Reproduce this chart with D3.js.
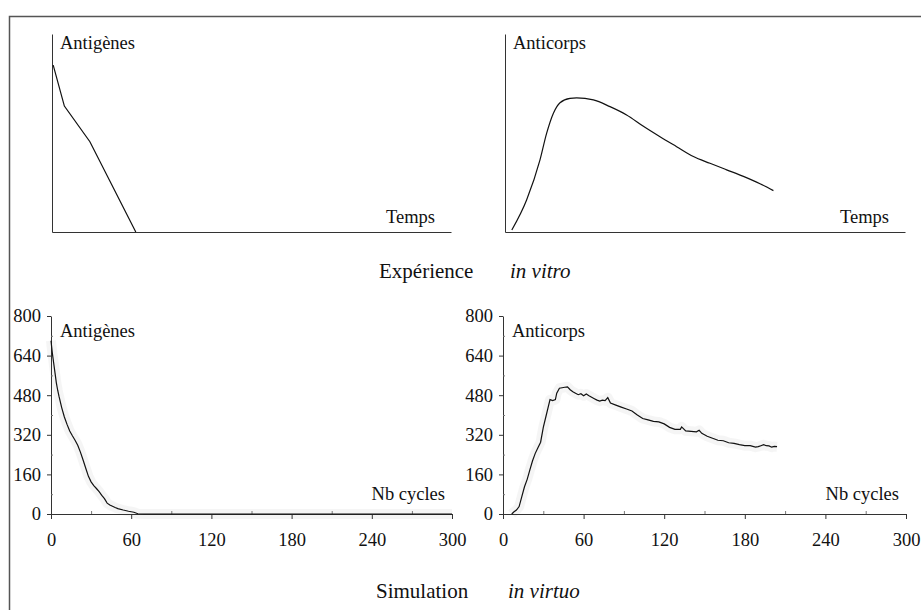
<!DOCTYPE html>
<html>
<head>
<meta charset="utf-8">
<script src="https://d3js.org/d3.v7.min.js"></script>
<style>
    body { margin: 0; background: #fff; }
    text { font-family: "Liberation Serif", "Times New Roman", serif; fill: #111; }
    .axis path, .axis line { stroke: #333; }
    .minor line { stroke: #777; }
</style>
</head>
<body>
<svg id="chart" width="921" height="610"></svg>
<script>
    // in vitro (schematic, arbitrary units 0-100)
    var vitroAgT = [0.3, 3.1, 9.5, 21];
    var vitroAgV = [84.3, 63.6, 45.6, 0];
    var vitroAbT = [1.7, 5.4, 8.75, 10.4, 12.1, 13.75, 16.25, 17.9, 22.1, 26.25, 30.4, 34.5, 38.75, 42.9, 47.1, 51.25, 55.4, 59.6, 63.75, 67.1];
    var vitroAbV = [1, 16.2, 36.4, 49.8, 60, 65.3, 67.5, 67.7, 66.7, 63.3, 59.1, 53.5, 48.1, 43.1, 38.1, 34.7, 31.4, 28.1, 24.4, 20.9];

    // in virtuo (simulation)
    var simAgC = [0, 1, 2, 3, 4, 5, 6, 8, 10, 12, 14, 16, 18, 20, 22, 24, 26, 28, 30, 32, 34, 36, 38, 40, 42, 44, 46, 48, 50, 54, 58, 62, 65, 70, 100, 150, 200, 250, 300];
    var simAgV = [700, 650, 610, 570, 530, 500, 475, 430, 392, 362, 335, 316, 298, 278, 250, 218, 185, 152, 130, 115, 103, 90, 75, 62, 44, 36, 31, 26, 22, 16, 11, 7, 1, 0, 0, 0, 0, 0, 0];
    var simAbC = [6.5, 8, 10, 12, 14, 16, 18, 20, 22, 24, 26, 28, 30, 32, 34, 35, 37, 39, 40, 42, 44, 46, 48, 50, 52, 54, 56, 58, 60, 62, 64, 66, 68, 70, 72, 74, 76, 78, 80, 84, 88, 92, 96, 100, 104, 108, 112, 116, 120, 124, 128, 132, 133, 136, 140, 144, 146, 148, 152, 156, 160, 164, 168, 172, 176, 180, 184, 188, 190, 192, 194, 196, 198, 200, 202, 204];
    var simAbV = [0, 8, 16, 30, 70, 110, 140, 178, 215, 245, 268, 290, 350, 395, 440, 462, 458, 462, 488, 508, 510, 512, 514, 502, 494, 488, 482, 486, 478, 485, 478, 472, 466, 460, 456, 460, 458, 470, 448, 440, 432, 424, 416, 400, 386, 380, 374, 372, 364, 350, 342, 342, 352, 336, 334, 332, 338, 326, 314, 306, 298, 296, 288, 285, 280, 276, 276, 270, 272, 276, 280, 276, 275, 270, 273, 272];

    var yTicks = [0, 160, 320, 480, 640, 800];
    var yMinor = [80, 240, 400, 560, 720];
    var xTicks = [0, 60, 120, 180, 240, 300];
    var xMinor = [30, 90, 150, 210, 270];

    var svg = d3.select("#chart");

    // outer frame (left + top)
    svg.append("path")
        .attr("d", "M9.5,610V16.5H921")
        .attr("fill", "none")
        .attr("stroke", "#555")
        .attr("stroke-width", 1.5);

    function zip(a, b) { return a.map(function (d, i) { return [d, b[i]]; }); }

    function label(x, y, txt, anchor, italic, size) {
        svg.append("text")
            .attr("x", x).attr("y", y)
            .attr("text-anchor", anchor || "start")
            .style("font-size", (size || 18.5) + "px")
            .style("font-style", italic ? "italic" : "normal")
            .text(txt);
    }

    // schematic panel (no graduations)
    function vitroPanel(x0, x1, tArr, vArr, title, curve) {
        var x = d3.scaleLinear().domain([0, 100]).range([x0, x1]);
        var y = d3.scaleLinear().domain([0, 100]).range([232, 34]);
        svg.append("g").attr("class", "axis")
            .attr("transform", "translate(0,232)")
            .call(d3.axisBottom(x).tickValues([]).tickSizeOuter(0));
        svg.append("g").attr("class", "axis")
            .attr("transform", "translate(" + x0 + ",0)")
            .call(d3.axisLeft(y).tickValues([]).tickSizeOuter(0));
        svg.append("path")
            .datum(zip(tArr, vArr))
            .attr("fill", "none")
            .attr("stroke", "#111")
            .attr("stroke-width", 1.2)
            .attr("d", d3.line().x(function (d) { return x(d[0]); }).y(function (d) { return y(d[1]); }).curve(curve));
        label(x0 + 8, 49, title);
        label(x1 - 16, 223, "Temps", "end");
    }

    function simPanel(x0, x1, cArr, vArr, title) {
        var x = d3.scaleLinear().domain([0, 300]).range([x0, x1]);
        var y = d3.scaleLinear().domain([0, 800]).range([514, 316]);
        var line = d3.line().x(function (d) { return x(d[0]); }).y(function (d) { return y(d[1]); });
        var pts = zip(cArr, vArr);

        // light grey noise band around the trace
        svg.append("path").datum(pts)
            .attr("fill", "none").attr("stroke", "#e8e8e8").attr("stroke-width", 10)
            .attr("stroke-linejoin", "round").attr("opacity", 0.45)
            .attr("d", line);

        svg.append("g").attr("class", "axis")
            .attr("transform", "translate(0,514)")
            .call(d3.axisBottom(x).tickValues(xTicks).tickSize(5).tickSizeOuter(0).tickPadding(14));
        svg.append("g").attr("class", "axis minor")
            .attr("transform", "translate(0,514)")
            .call(d3.axisTop(x).tickValues(xMinor).tickSize(3).tickFormat(""))
            .select(".domain").remove();
        svg.append("g").attr("class", "axis")
            .attr("transform", "translate(" + x0 + ",0)")
            .call(d3.axisLeft(y).tickValues(yTicks).tickSize(4).tickSizeOuter(0).tickPadding(6));
        svg.append("g").attr("class", "axis minor")
            .attr("transform", "translate(" + x0 + ",0)")
            .call(d3.axisRight(y).tickValues(yMinor).tickSize(2).tickFormat(""))
            .select(".domain").remove();
        svg.selectAll(".axis text")
            .style("font-family", "'Liberation Serif', serif")
            .style("font-size", "18.5px")
            .attr("fill", "#111");

        svg.append("path").datum(pts)
            .attr("fill", "none").attr("stroke", "#111").attr("stroke-width", 1.2)
            .attr("d", line);

        label(x0 + 9, 337, title);
        label(x1 - 7, 500, "Nb cycles", "end");
    }

    vitroPanel(52, 451, vitroAgT, vitroAgV, "Antigènes", d3.curveLinear);
    vitroPanel(505, 905, vitroAbT, vitroAbV, "Anticorps", d3.curveMonotoneX);

    simPanel(51, 452, simAgC, simAgV, "Antigènes");
    simPanel(503, 906, simAbC, simAbV, "Anticorps");

    label(379, 278, "Expérience", "start", false, 21);
    label(510, 278, "in vitro", "start", true, 21);
    label(376, 598, "Simulation", "start", false, 21);
    label(508, 598, "in virtuo", "start", true, 21);
</script>
</body>
</html>
